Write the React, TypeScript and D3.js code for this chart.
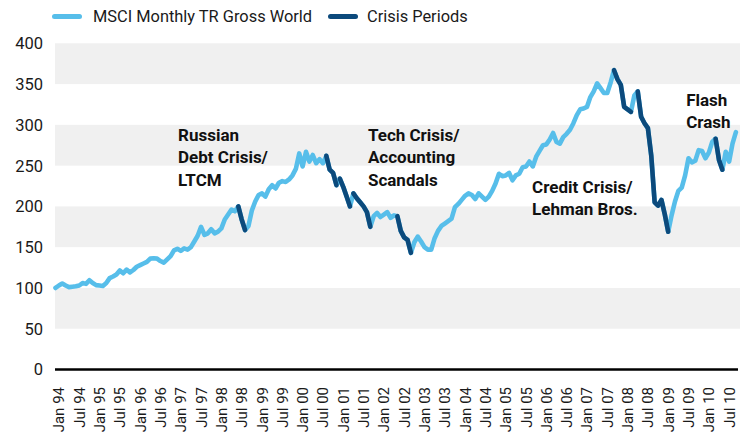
import React from 'react';
import * as d3 from 'd3';

// MSCI World monthly gross total return, Jan 94 = 100
const values94 = [100, 103, 105.5, 103, 101, 101.5, 102, 103, 106, 105, 109.5, 106];
const values95 = [103.5, 103, 102.5, 106, 112, 114, 116.5, 121.5, 118, 122.5, 119, 122];
const values96 = [126, 128, 130, 132, 136, 136.5, 136, 133, 131, 135, 139, 146];
const values97 = [148, 145.5, 148.5, 147, 150, 157, 164, 175, 165, 167, 172, 167];
const values98 = [169, 173, 184, 190, 196, 194, 200, 184, 171, 176, 195, 206];
const values99 = [214, 216, 212, 221, 226, 222, 229, 231, 230, 233, 238, 246];
const values00 = [265, 249, 267, 255, 263, 253, 258, 253, 262, 245, 241, 226];
const values01 = [234, 224, 212, 200, 216, 210, 205, 200, 193, 175, 188, 192];
const values02 = [187, 190, 193, 186, 189, 188, 170, 162, 159, 143, 156, 163];
const values03 = [157, 150, 147, 147, 161, 170, 176, 179, 182, 185, 199, 203];
const values04 = [208, 213, 216, 214, 209, 216, 212, 208, 212, 219, 228, 240];
const values05 = [237, 238, 241, 232, 238, 240, 248, 249, 255, 249, 261, 268];
const values06 = [275, 276, 282, 290, 279, 277, 285, 289, 294, 302, 312, 319];
const values07 = [320, 322, 334, 341, 351, 345, 339, 339, 352, 367, 356, 349];
const values08 = [322, 319, 316, 336, 341, 310, 302, 296, 262, 205, 201, 208];
const values09 = [190, 169, 189, 206, 219, 223, 238, 259, 254, 256, 269, 268];
const values10 = [259, 266, 279, 283, 257, 245, 267, 255, 277, 291];

const msciValues = [
  ...values94, ...values95, ...values96, ...values97, ...values98, ...values99,
  ...values00, ...values01, ...values02, ...values03, ...values04, ...values05,
  ...values06, ...values07, ...values08, ...values09, ...values10,
];

// crisis stretches, as [first month, last month] indexes from Jan 94
const crisisPeriods: [number, number][] = [
  [54, 56],
  [80, 83], [84, 87], [88, 93], [101, 105],
  [165, 170], [172, 181],
  [195, 197],
];

const tickLabels = [
  'Jan 94', 'Jul 94', 'Jan 95', 'Jul 95', 'Jan 96', 'Jul 96', 'Jan 97', 'Jul 97',
  'Jan 98', 'Jul 98', 'Jan 99', 'Jul 99', 'Jan 00', 'Jul 00', 'Jan 01', 'Jul 01',
  'Jan 02', 'Jul 02', 'Jan 03', 'Jul 03', 'Jan 04', 'Jul 04', 'Jan 05', 'Jul 05',
  'Jan 06', 'Jul 06', 'Jan 07', 'Jul 07', 'Jan 08', 'Jul 08', 'Jan 09', 'Jul 09',
  'Jan 10', 'Jul 10',
];

const yTicks = [0, 50, 100, 150, 200, 250, 300, 350, 400];

const annotations = [
  { lines: ['Russian', 'Debt Crisis/', 'LTCM'], month: 36.2, value: 280 },
  { lines: ['Tech Crisis/', 'Accounting', 'Scandals'], month: 92.3, value: 280 },
  { lines: ['Credit Crisis/', 'Lehman Bros.'], month: 140.8, value: 217 },
  { lines: ['Flash', 'Crash'], month: 186.3, value: 323 },
];

const LIGHT = '#57BEEA';
const DARK = '#0C4A7C';
const FONT = 'Roboto, "Liberation Sans", Arial, sans-serif';

const App: React.FC = () => {
  const width = 744;
  const height = 437;

  const x = d3.scaleLinear().domain([0, 201]).range([55.5, 735.9]);
  const y = d3.scaleLinear().domain([0, 400]).range([369.5, 43.3]);

  const line = d3.line<number>()
    .x((_, i) => x(i))
    .y(d => y(d));

  const crisisLine = d3.line<[number, number]>()
    .x(d => x(d[0]))
    .y(d => y(d[1]));

  const bands = [50, 150, 250, 350];

  return (
    <svg
      width={width}
      height={height}
      style={{ position: 'absolute', left: 0, top: 0, background: '#fff' }}
      fontFamily={FONT}
    >
      {/* alternating grey bands */}
      {bands.map(b => (
        <rect key={b} x={55} width={685} y={y(b + 50)} height={y(b) - y(b + 50)} fill="#F0F0F0" />
      ))}

      {/* y axis labels */}
      {yTicks.map(t => (
        <text key={t} x={43} y={y(t)} dy="0.36em" textAnchor="end" fontSize={16.5} fill="#1a1a1a">
          {t}
        </text>
      ))}

      {/* zero axis */}
      <line x1={55} x2={738} y1={y(0)} y2={y(0)} stroke="#000" strokeWidth={2.6} />

      {/* month labels every 6 months */}
      {tickLabels.map((lab, i) => (
        <text
          key={lab}
          transform={`translate(${x(i * 6) + 3.5}, 387) rotate(-90)`}
          dy="0.36em"
          textAnchor="end"
          fontSize={15}
          fill="#1a1a1a"
        >
          {lab}
        </text>
      ))}

      {/* full series */}
      <path
        d={line(msciValues) ?? ''}
        fill="none"
        stroke={LIGHT}
        strokeWidth={4.6}
        strokeLinejoin="round"
        strokeLinecap="round"
      />

      {/* crisis overlays */}
      {crisisPeriods.map(([a, b]) => {
        const pts = d3.range(a, b + 1).map(i => [i, msciValues[i]] as [number, number]);
        return (
          <path
            key={a}
            d={crisisLine(pts) ?? ''}
            fill="none"
            stroke={DARK}
            strokeWidth={4.6}
            strokeLinejoin="round"
            strokeLinecap="round"
          />
        );
      })}

      {/* annotations */}
      {annotations.map(a => (
        <text key={a.lines[0]} x={x(a.month)} y={y(a.value)} fontSize={17} fontWeight="bold" fill="#111">
          {a.lines.map((l, i) => (
            <tspan key={l} x={x(a.month)} dy={i === 0 ? 0 : 22.3}>{l}</tspan>
          ))}
        </text>
      ))}

      {/* legend */}
      <line x1={54.5} x2={79.5} y1={16.5} y2={16.5} stroke={LIGHT} strokeWidth={5} strokeLinecap="round" />
      <text x={93} y={22} fontSize={16.4} fill="#1a1a1a">MSCI Monthly TR Gross World</text>
      <line x1={330.5} x2={355.5} y1={16.5} y2={16.5} stroke={DARK} strokeWidth={5} strokeLinecap="round" />
      <text x={367} y={22} fontSize={16.4} fill="#1a1a1a">Crisis Periods</text>
    </svg>
  );
};

export default App;
